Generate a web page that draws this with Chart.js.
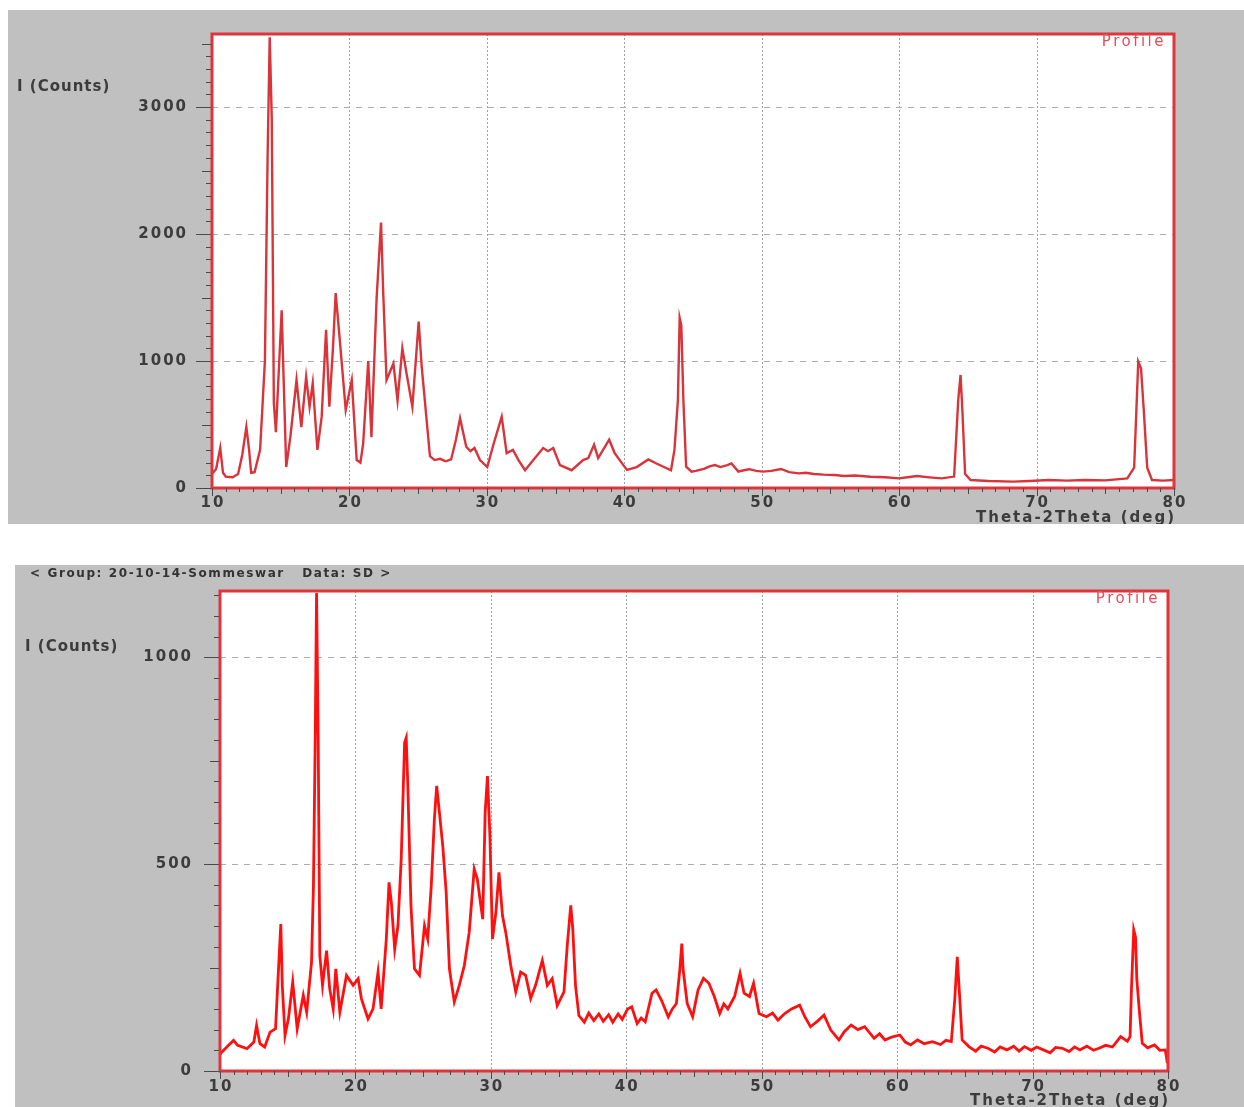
<!DOCTYPE html>
<html><head><meta charset="utf-8">
<script src="https://cdn.jsdelivr.net/npm/chart.js@4"></script>
<style>
html,body{margin:0;padding:0;background:#fff;width:1244px;height:1107px;overflow:hidden;}
canvas{position:absolute;background:#c0c0c0;}
#c1{left:8px;top:10px;}
#c2{left:15px;top:565px;}
</style></head><body>
<canvas id="c1" width="1236" height="514"></canvas>
<canvas id="c2" width="1229" height="542"></canvas>
<script>
// ---------- data ----------
const thetaTop = [10.0,10.3,10.6,10.8,11.0,11.5,11.9,12.2,12.5,12.7,12.85,13.1,13.5,13.85,14.05,14.2,14.35,14.5,14.65,14.85,15.07,15.2,15.4,15.7,16.15,16.5,16.85,17.1,17.33,17.67,17.98,18.3,18.54,18.8,19.0,19.3,19.73,20.17,20.53,20.8,21.0,21.37,21.6,21.98,22.3,22.46,22.7,23.2,23.5,23.85,24.16,24.58,25.04,25.26,25.86,26.2,26.6,27.0,27.4,27.75,28.05,28.5,28.8,29.1,29.5,30.03,30.5,31.08,31.44,31.9,32.3,32.78,33.38,34.1,34.45,34.83,35.32,36.17,37.0,37.38,37.8,38.1,38.9,39.3,39.93,40.2,40.9,41.75,42.3,43.4,43.65,43.9,44.03,44.15,44.3,44.5,44.9,45.2,45.8,46.2,46.6,47.0,47.5,47.8,48.3,48.7,49.1,49.6,50.1,50.7,51.4,52.0,52.7,53.2,53.8,54.5,55.3,56.0,56.8,57.9,59.0,60.0,60.6,61.3,62.2,63.1,64.0,64.3,64.47,64.6,64.8,65.2,66.5,68.3,69.5,70.9,72.2,73.5,75.0,76.6,77.1,77.4,77.6,77.8,78.05,78.4,79.2,80.0];
const countsTop = [110,150,315,120,90,85,110,260,480,300,120,125,300,1000,2640,3550,2900,670,440,900,1400,900,165,400,850,480,875,640,825,300,560,1245,640,1100,1535,1165,615,850,220,200,350,1000,400,1500,2090,1535,850,980,690,1100,900,640,1310,955,250,220,230,210,225,380,550,325,290,315,220,165,350,562,275,300,220,140,220,315,290,315,180,140,220,235,340,235,380,275,180,142,165,225,195,140,300,690,1340,1280,690,168,129,135,150,170,181,165,180,194,129,140,148,135,129,135,150,125,115,120,110,105,102,95,98,89,85,76,85,94,84,76,90,693,890,614,110,63,55,50,55,63,58,63,60,76,160,995,942,614,160,63,58,63];

const thetaBottom = [10.0,10.15,10.5,11.0,11.3,11.99,12.5,12.7,12.95,13.3,13.7,14.1,14.26,14.49,14.6,14.8,15.05,15.37,15.7,16.15,16.4,16.76,16.9,17.03,17.13,17.25,17.37,17.57,17.87,18.1,18.36,18.55,18.85,19.34,19.83,20.2,20.44,20.93,21.3,21.67,21.9,22.28,22.48,22.65,22.9,23.14,23.38,23.63,23.75,23.87,24.1,24.36,24.73,25.1,25.34,25.6,25.83,26.0,26.2,26.45,26.7,26.94,27.3,27.67,28.04,28.4,28.77,29.0,29.26,29.4,29.58,29.75,29.93,30.12,30.37,30.6,30.86,31.1,31.47,31.84,32.2,32.57,32.94,33.3,33.8,34.17,34.53,34.9,35.4,35.64,35.9,36.05,36.25,36.5,36.9,37.23,37.6,37.97,38.3,38.7,39.0,39.4,39.7,40.1,40.4,40.8,41.1,41.4,41.9,42.2,42.6,43.1,43.4,43.7,43.95,44.1,44.2,44.5,44.9,45.3,45.7,46.1,46.5,46.9,47.2,47.5,48.0,48.4,48.7,49.1,49.4,49.8,50.35,50.8,51.2,51.7,52.2,52.8,53.2,53.6,54.1,54.6,55.1,55.7,56.1,56.6,57.1,57.6,58.3,58.7,59.1,59.6,60.2,60.6,61.0,61.5,62.0,62.6,63.2,63.6,64.0,64.25,64.44,64.6,64.8,65.3,65.8,66.2,66.7,67.2,67.6,68.1,68.6,69.0,69.4,69.9,70.3,70.8,71.3,71.7,72.2,72.7,73.1,73.5,74.0,74.5,74.9,75.4,75.9,76.5,77.0,77.2,77.3,77.47,77.6,77.7,77.9,78.1,78.5,79.0,79.4,79.8,79.95];
const countsBottom = [40,46,58,74,62,54,70,110,66,58,94,102,207,355,207,86,126,215,102,183,142,263,448,801,1155,801,279,207,291,199,150,247,142,231,207,223,175,126,150,239,150,319,456,408,295,351,512,793,805,689,400,247,231,351,319,448,609,689,625,544,432,247,167,207,255,335,488,464,400,367,625,713,568,319,383,480,375,335,255,191,239,231,175,207,267,207,223,158,191,303,400,343,207,134,118,140,122,138,120,136,118,138,125,150,155,115,128,119,188,196,171,131,150,163,244,308,244,163,131,196,224,212,180,139,162,150,180,236,188,180,212,139,131,140,123,139,150,159,130,107,120,135,99,75,95,111,100,107,79,90,75,82,87,70,63,75,66,71,64,74,71,171,276,188,75,59,48,60,55,46,58,51,60,48,59,50,58,51,44,57,55,47,58,51,60,50,55,62,58,83,72,83,196,341,324,220,139,67,56,63,50,51,19];

const xTickLabels = [10,20,30,40,50,60,70,80];
const yTickLabelsTop = [0,1000,2000,3000];
const yTickLabelsBottom = [0,500,1000];
const xTitle = 'Theta-2Theta (deg)';
const yTitle = 'I (Counts)';
const legendLabel = 'Profile';
const headerText = '< Group: 20-10-14-Sommeswar   Data: SD >';

// ---------- drawing ----------
function txt(ctx, s, x, y, align, font, color, spacing) {
  ctx.save();
  ctx.font = font;
  ctx.fillStyle = color;
  ctx.textAlign = align;
  ctx.textBaseline = 'middle';
  try { ctx.letterSpacing = spacing || '0px'; } catch (e) {}
  ctx.fillText(s, x, y);
  ctx.restore();
}

const framePlugin = {
  id: 'xrdFrame',
  beforeDatasetsDraw(chart, args, o) {
    const ctx = chart.ctx, a = chart.chartArea, x = chart.scales.x, y = chart.scales.y;
    ctx.save();
    ctx.fillStyle = '#ffffff';
    ctx.fillRect(a.left, a.top, a.right - a.left, a.bottom - a.top);
    ctx.lineWidth = 1;
    ctx.strokeStyle = '#a0a0a0';
    ctx.setLineDash([2, 2]);
    o.xLabels.forEach(v => {
      if (v <= x.min || v >= x.max) return;
      const px = Math.round(x.getPixelForValue(v)) + 0.5;
      ctx.beginPath(); ctx.moveTo(px, a.top); ctx.lineTo(px, a.bottom); ctx.stroke();
    });
    ctx.strokeStyle = '#ababab';
    ctx.setLineDash([6, 6]);
    o.yLabels.forEach(v => {
      if (v <= y.min || v >= y.max) return;
      const py = Math.round(y.getPixelForValue(v)) + 0.5;
      ctx.beginPath(); ctx.moveTo(a.left, py); ctx.lineTo(a.right, py); ctx.stroke();
    });
    ctx.restore();
  },
  afterDatasetsDraw(chart, args, o) {
    const ctx = chart.ctx, a = chart.chartArea, x = chart.scales.x, y = chart.scales.y;
    ctx.save();
    ctx.strokeStyle = '#e0343c';
    ctx.lineWidth = 3;
    ctx.strokeRect(a.left, a.top, a.right - a.left, a.bottom - a.top);
    ctx.strokeStyle = '#4a4a4a';
    ctx.lineWidth = 1;
    for (let v = 0; v <= y.max; v += o.yMinor) {
      const py = Math.round(y.getPixelForValue(v)) + 0.5;
      const len = (v % o.yMajor === 0) ? 16 : (v % o.yMid === 0 ? 10 : 6);
      ctx.beginPath(); ctx.moveTo(a.left - len, py); ctx.lineTo(a.left - 1, py); ctx.stroke();
    }
    for (let v = x.min; v <= x.max; v += 1) {
      const px = Math.round(x.getPixelForValue(v)) + 0.5;
      const len = (v % 10 === 0) ? 8 : (v % 5 === 0 ? 6 : 4);
      ctx.beginPath(); ctx.moveTo(px, a.bottom); ctx.lineTo(px, a.bottom + len); ctx.stroke();
    }
    ctx.restore();
    const f = 'bold 15px "DejaVu Sans"';
    const c = '#3c3c3c';
    o.yLabels.forEach(v => txt(ctx, String(v), a.left - o.yLabelGap, y.getPixelForValue(v), 'right', f, c, '2px'));
    o.xLabels.forEach(v => txt(ctx, String(v), x.getPixelForValue(v) + 1, a.bottom + o.xLabelGap, 'center', f, c, '2px'));
    txt(ctx, yTitle, o.yTitleX, o.yTitleY, 'left', 'bold 15px "DejaVu Sans"', c, '1px');
    txt(ctx, xTitle, a.right + 2, a.bottom + 30, 'right', 'bold 15px "DejaVu Sans"', c, '2px');
    txt(ctx, legendLabel, a.right - 8, a.top + 8, 'right', '15px "DejaVu Sans"', '#e0505a', '2.5px');
    if (o.header) txt(ctx, o.header, 15, 9, 'left', 'bold 12px "DejaVu Sans"', '#333333', '1.6px');
  }
};

function makeChart(id, xs, ys, ymax, color, width, pad, opts) {
  const pts = xs.map((t, i) => ({x: t, y: ys[i]}));
  return new Chart(document.getElementById(id), {
    type: 'line',
    data: { datasets: [{ data: pts, borderColor: color, borderWidth: width, pointRadius: 0, tension: 0, fill: false }] },
    options: {
      responsive: false, animation: false,
      layout: { padding: pad },
      plugins: { legend: { display: false }, tooltip: { enabled: false }, xrdFrame: opts },
      scales: {
        x: { type: 'linear', min: 10, max: 80, display: false },
        y: { type: 'linear', min: 0, max: ymax, display: false }
      }
    },
    plugins: [framePlugin]
  });
}

makeChart('c1', thetaTop, countsTop, 3575, '#d8343a', 2.4,
  { left: 204, right: 70, top: 24, bottom: 36 },
  { xLabels: xTickLabels, yLabels: yTickLabelsTop, yMinor: 100, yMid: 500, yMajor: 1000,
    yLabelGap: 24, xLabelGap: 15, yTitleX: 9, yTitleY: 77, header: null });

makeChart('c2', thetaBottom, countsBottom, 1160, '#ff1010', 2.8,
  { left: 205, right: 76, top: 26, bottom: 36 },
  { xLabels: xTickLabels, yLabels: yTickLabelsBottom, yMinor: 50, yMid: 250, yMajor: 500,
    yLabelGap: 27, xLabelGap: 16, yTitleX: 10, yTitleY: 82, header: headerText });
</script>
</body></html>
